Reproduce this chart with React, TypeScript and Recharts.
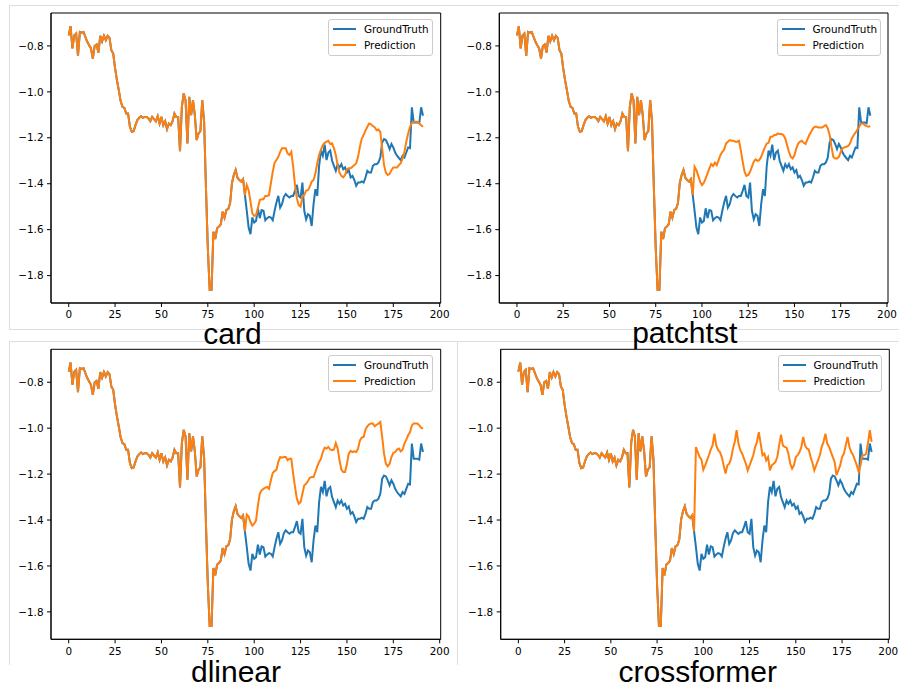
import React from 'react';
import { LineChart, Line, XAxis, YAxis, Legend, ReferenceArea } from 'recharts';

// shared look-back window (steps 0..95)
const INPUT = [
  -0.754, -0.714, -0.811, -0.754, -0.746, -0.843, -0.739, -0.742, -0.739, -0.761,
  -0.782, -0.797, -0.811, -0.855, -0.8, -0.794, -0.829, -0.756, -0.78, -0.756,
  -0.775, -0.756, -0.765, -0.819, -0.833, -0.898, -0.949, -0.993, -1.04, -1.065,
  -1.07, -1.094, -1.094, -1.152, -1.174, -1.171, -1.145, -1.123, -1.113, -1.106,
  -1.113, -1.109, -1.109, -1.116, -1.128, -1.109, -1.119, -1.128, -1.106, -1.138,
  -1.109, -1.145, -1.128, -1.162, -1.138, -1.145, -1.128, -1.094, -1.109, -1.109,
  -1.258, -1.065, -1.007, -1.036, -1.225, -1.022, -1.101, -1.036, -1.101, -1.21,
  -1.181, -1.171, -1.036, -1.13, -1.42, -1.681, -1.862, -1.862, -1.609, -1.641,
  -1.594, -1.587, -1.577, -1.522, -1.548, -1.514, -1.51, -1.485, -1.398, -1.362,
  -1.34, -1.374, -1.384, -1.391, -1.38, -1.449,
];

// ground truth horizon (steps 96..191)
const TRUTH = [
  -1.518, -1.591, -1.62, -1.547, -1.569, -1.562, -1.507, -1.55, -1.515, -1.518,
  -1.559, -1.55, -1.544, -1.547, -1.559, -1.518, -1.482, -1.453, -1.504, -1.489,
  -1.457, -1.445, -1.453, -1.46, -1.453, -1.453, -1.431, -1.405, -1.453, -1.46,
  -1.395, -1.518, -1.555, -1.533, -1.54, -1.584, -1.489, -1.424, -1.453, -1.322,
  -1.256, -1.278, -1.23, -1.297, -1.264, -1.256, -1.3, -1.322, -1.344, -1.315,
  -1.329, -1.315, -1.337, -1.329, -1.351, -1.341, -1.373, -1.366, -1.384, -1.409,
  -1.395, -1.395, -1.39, -1.395, -1.373, -1.344, -1.351, -1.351, -1.322, -1.315,
  -1.315, -1.307, -1.286, -1.22, -1.206, -1.21, -1.227, -1.249, -1.227, -1.242,
  -1.264, -1.278, -1.288, -1.297, -1.278, -1.286, -1.264, -1.242, -1.245, -1.067,
  -1.133, -1.133, -1.133, -1.137, -1.067, -1.104,
];

const CARD = [
  -1.406, -1.428, -1.478, -1.529, -1.54, -1.536, -1.507, -1.471, -1.468, -1.468,
  -1.453, -1.453, -1.449, -1.398, -1.348, -1.308, -1.297, -1.283, -1.261, -1.246,
  -1.246, -1.246, -1.268, -1.275, -1.261, -1.326, -1.406, -1.464, -1.493, -1.5,
  -1.457, -1.449, -1.43, -1.428, -1.413, -1.391, -1.384, -1.355, -1.311, -1.275,
  -1.251, -1.232, -1.222, -1.217, -1.213, -1.227, -1.224, -1.246, -1.275, -1.319,
  -1.352, -1.366, -1.372, -1.362, -1.337, -1.333, -1.333, -1.326, -1.319, -1.311,
  -1.283, -1.239, -1.203, -1.188, -1.169, -1.152, -1.138, -1.141, -1.149, -1.155,
  -1.167, -1.164, -1.174, -1.246, -1.319, -1.352, -1.362, -1.358, -1.341, -1.329,
  -1.329, -1.329, -1.319, -1.311, -1.29, -1.261, -1.217, -1.181, -1.152, -1.135,
  -1.13, -1.13, -1.13, -1.138, -1.145, -1.152,
];

const PATCHTST = [
  -1.326, -1.341, -1.366, -1.391, -1.406, -1.396, -1.377, -1.355, -1.333, -1.314,
  -1.323, -1.308, -1.319, -1.297, -1.275, -1.261, -1.251, -1.225, -1.217, -1.21,
  -1.213, -1.213, -1.217, -1.217, -1.213, -1.254, -1.304, -1.348, -1.366, -1.362,
  -1.348, -1.326, -1.304, -1.294, -1.3, -1.297, -1.283, -1.261, -1.242, -1.225,
  -1.222, -1.196, -1.196, -1.188, -1.188, -1.181, -1.184, -1.184, -1.188, -1.203,
  -1.232, -1.261, -1.283, -1.29, -1.275, -1.246, -1.225, -1.217, -1.213, -1.222,
  -1.227, -1.207, -1.188, -1.174, -1.159, -1.152, -1.152, -1.155, -1.155, -1.155,
  -1.149, -1.145, -1.159, -1.188, -1.239, -1.283, -1.29, -1.29, -1.283, -1.261,
  -1.246, -1.242, -1.239, -1.235, -1.225, -1.203, -1.188, -1.178, -1.164, -1.152,
  -1.138, -1.138, -1.145, -1.149, -1.152, -1.149,
];

const DLINEAR = [
  -1.376, -1.385, -1.409, -1.424, -1.416, -1.402, -1.336, -1.286, -1.271, -1.264,
  -1.259, -1.256, -1.264, -1.227, -1.195, -1.187, -1.181, -1.147, -1.126, -1.129,
  -1.126, -1.126, -1.14, -1.133, -1.133, -1.198, -1.256, -1.307, -1.329, -1.322,
  -1.286, -1.249, -1.242, -1.23, -1.216, -1.213, -1.213, -1.191, -1.166, -1.147,
  -1.133, -1.104, -1.085, -1.089, -1.082, -1.093, -1.096, -1.093, -1.065, -1.089,
  -1.14, -1.181, -1.191, -1.191, -1.155, -1.111, -1.099, -1.104, -1.101, -1.104,
  -1.089, -1.053, -1.041, -1.038, -1.006, -0.992, -0.983, -0.98, -0.98, -0.992,
  -0.985, -0.98, -0.973, -1.038, -1.111, -1.155, -1.166, -1.155, -1.126, -1.108,
  -1.104, -1.093, -1.089, -1.101, -1.093, -1.067, -1.05, -1.031, -1.017, -0.988,
  -0.98, -0.98, -0.98, -0.988, -0.998, -1.002,
];

const CROSSFORMER = [
  -1.082, -1.104, -1.126, -1.137, -1.181, -1.162, -1.14, -1.118, -1.093, -1.075,
  -1.024, -1.075, -1.096, -1.104, -1.126, -1.162, -1.198, -1.162, -1.155, -1.133,
  -1.089, -1.06, -1.009, -1.067, -1.096, -1.111, -1.133, -1.155, -1.184, -1.162,
  -1.14, -1.118, -1.082, -1.06, -1.017, -1.067, -1.118, -1.111, -1.14, -1.126,
  -1.184, -1.162, -1.155, -1.147, -1.126, -1.075, -1.028, -1.075, -1.082, -1.085,
  -1.111, -1.155, -1.176, -1.162, -1.126, -1.118, -1.104, -1.082, -1.038, -1.075,
  -1.089, -1.093, -1.126, -1.152, -1.184, -1.162, -1.14, -1.118, -1.082, -1.06,
  -1.024, -1.067, -1.082, -1.104, -1.126, -1.147, -1.205, -1.184, -1.162, -1.126,
  -1.111, -1.075, -1.038, -1.082, -1.104, -1.118, -1.14, -1.162, -1.191, -1.162,
  -1.118, -1.118, -1.111, -1.067, -1.009, -1.06,
];

const X_TICKS = [0, 25, 50, 75, 100, 125, 150, 175, 200];
const Y_TICKS = [-1.8, -1.6, -1.4, -1.2, -1.0, -0.8];

const BLUE = '#1f77b4';
const ORANGE = '#ff7f0e';
const FONT = '"DejaVu Sans", Verdana, sans-serif';
const AXIS_H = 20;

// matplotlib-style 5% margins around the data
function padded(lo: number, hi: number): [number, number] {
  const m = (hi - lo) * 0.05;
  return [lo - m, hi + m];
}

function buildRows(pred: number[]) {
  return [...INPUT, ...TRUTH].map((gt, i) => ({
    x: i,
    gt,
    pred: i < INPUT.length ? INPUT[i] : pred[i - INPUT.length],
  }));
}

const fmtY = (v: number) => v.toFixed(1).replace('-', '\u2212');

function LegendBox(props: any) {
  const items = props.payload || [];
  return (
    <div
      style={{
        border: '1px solid #cccccc',
        borderRadius: 3,
        background: 'rgba(255,255,255,0.8)',
        padding: '1px 3px 2px 4px',
        fontFamily: FONT,
        fontSize: 10.4,
        color: '#000',
      }}
    >
      {items.map((p: any) => (
        <div key={p.value} style={{ display: 'flex', alignItems: 'center', height: 16, whiteSpace: 'nowrap' }}>
          <svg width={23} height={4} style={{ marginRight: 8 }}>
            <line x1={0} x2={23} y1={2} y2={2} stroke={p.color} strokeWidth={2} />
          </svg>
          <span>{p.value}</span>
        </div>
      ))}
    </div>
  );
}

const PANELS = [
  { name: 'card', pred: CARD, left: 0, top: 0, width: 450, height: 330, plot: { l: 51, r: 440.7, t: 13, b: 303 }, legend: { l: 328, t: 18.7 } },
  { name: 'patchtst', pred: PATCHTST, left: 450, top: 0, width: 449, height: 330, plot: { l: 499.3, r: 888, t: 13, b: 303 }, legend: { l: 776.5, t: 18.7 } },
  { name: 'dlinear', pred: DLINEAR, left: 0, top: 336, width: 450, height: 330, plot: { l: 51, r: 440.7, t: 349.3, b: 639.3 }, legend: { l: 328, t: 355 } },
  { name: 'crossformer', pred: CROSSFORMER, left: 450, top: 336, width: 449, height: 330, plot: { l: 500.7, r: 889.3, t: 349.3, b: 639.3 }, legend: { l: 777.5, t: 355 } },
];

function Panel({ cfg }: { cfg: (typeof PANELS)[number] }) {
  const rows = buildRows(cfg.pred);
  const xDomain = padded(0, rows.length - 1);
  const all = rows.flatMap((r) => [r.gt, r.pred]);
  const yDomain = padded(Math.min(...all), Math.max(...all));
  const { plot } = cfg;
  const margin = {
    top: plot.t - cfg.top,
    right: cfg.left + cfg.width - plot.r,
    bottom: cfg.top + cfg.height - plot.b - AXIS_H,
    left: 0,
  };
  return (
    <div style={{ position: 'absolute', left: cfg.left, top: cfg.top }}>
      <LineChart width={cfg.width} height={cfg.height} data={rows} margin={margin} style={{ fontFamily: FONT }}>
        <XAxis
          dataKey="x"
          type="number"
          domain={xDomain}
          ticks={X_TICKS}
          interval={0}
          height={AXIS_H}
          tickSize={4}
          tickMargin={4}
          stroke="#000"
          tick={{ fill: '#000', fontSize: 10.4 }}
          allowDataOverflow
        />
        <YAxis
          type="number"
          domain={yDomain}
          ticks={Y_TICKS}
          interval={0}
          width={plot.l - cfg.left}
          tickSize={4}
          tickMargin={3.5}
          stroke="#000"
          tick={{ fill: '#000', fontSize: 10.4 }}
          tickFormatter={fmtY}
          allowDataOverflow
        />
        <ReferenceArea
          x1={xDomain[0]}
          x2={xDomain[1]}
          y1={yDomain[0]}
          y2={yDomain[1]}
          fill="none"
          stroke="#000"
          strokeWidth={1}
          ifOverflow="visible"
        />
        <Line type="linear" dataKey="gt" name="GroundTruth" stroke={BLUE} strokeWidth={2} dot={false} isAnimationActive={false} />
        <Line type="linear" dataKey="pred" name="Prediction" stroke={ORANGE} strokeWidth={2} dot={false} isAnimationActive={false} />
        <Legend
          layout="vertical"
          align="center"
          verticalAlign="middle"
          content={<LegendBox />}
          wrapperStyle={{ left: cfg.legend.l - cfg.left, top: cfg.legend.t - cfg.top, width: 'auto', height: 'auto' }}
        />
      </LineChart>
    </div>
  );
}

const CAPTIONS = [
  { text: 'card', x: 232.5, y: 344 },
  { text: 'patchtst', x: 684.7, y: 343 },
  { text: 'dlinear', x: 236, y: 682 },
  { text: 'crossformer', x: 697.7, y: 682 },
];

export default function App() {
  return (
    <div style={{ position: 'absolute', left: 0, top: 0, width: 899, height: 692, background: '#fff', overflow: 'hidden' }}>
      {PANELS.map((p) => (
        <Panel key={p.name} cfg={p} />
      ))}
      <svg width={899} height={692} style={{ position: 'absolute', left: 0, top: 0, pointerEvents: 'none' }}>
        <g stroke="#dedede" strokeWidth={1} fill="none">
          <line x1={9} x2={899} y1={5.5} y2={5.5} />
          <line x1={9.5} x2={9.5} y1={5.5} y2={329} />
          <line x1={9} x2={899} y1={329.5} y2={329.5} />
          <line x1={9} x2={899} y1={341.5} y2={341.5} />
          <line x1={9.5} x2={9.5} y1={341.5} y2={665} />
          <line x1={457.5} x2={457.5} y1={341.5} y2={665} />
        </g>
        {CAPTIONS.map((c) => (
          <text key={c.text} x={c.x} y={c.y} textAnchor="middle" fontFamily='"Liberation Sans", Arial, sans-serif' fontSize={30} fill="#000">
            {c.text}
          </text>
        ))}
      </svg>
    </div>
  );
}
